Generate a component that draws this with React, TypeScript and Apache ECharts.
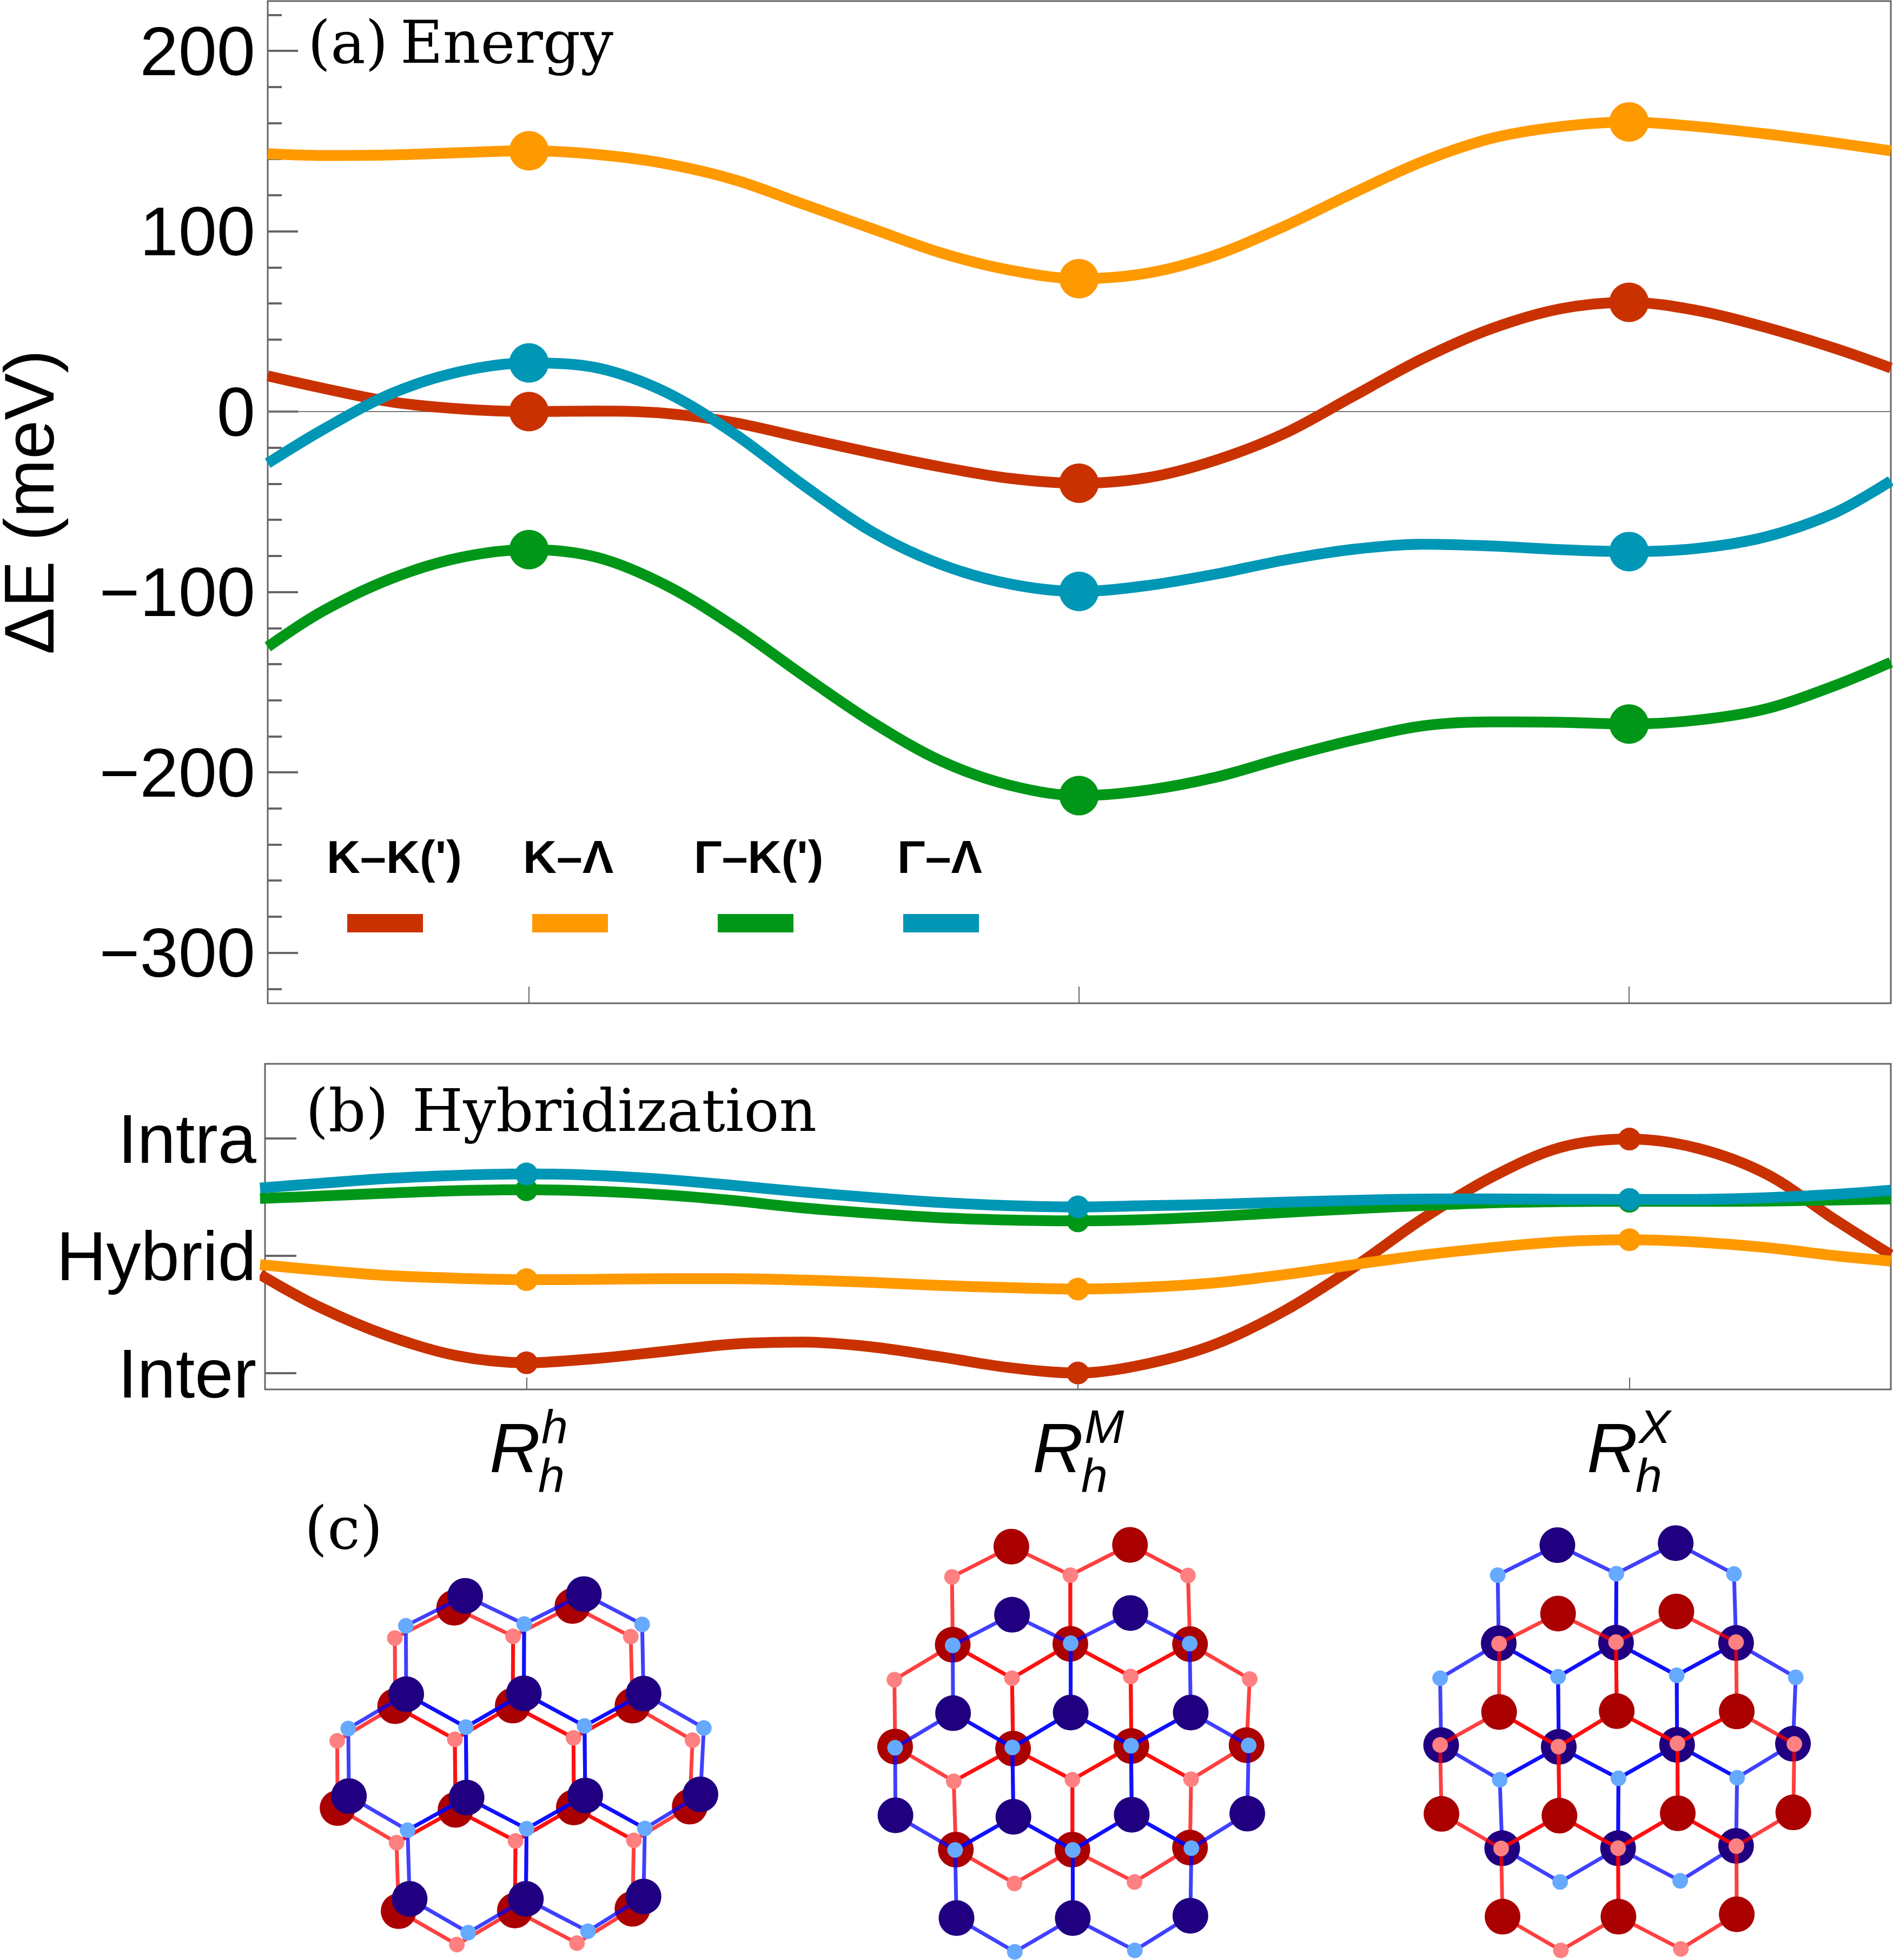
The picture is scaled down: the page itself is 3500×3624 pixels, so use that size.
import React, { useEffect, useRef } from 'react';
import * as echarts from 'echarts';

// Panel (a): energies in meV
const xEnergy = [-0.475, -0.375, -0.25, -0.125, 0, 0.125, 0.25, 0.375, 0.5, 0.625, 0.75, 0.875, 1, 1.125, 1.25, 1.375, 1.5, 1.625, 1.75, 1.875, 2, 2.125, 2.25, 2.375, 2.476];
const energyKK = [19.8, 13, 5.4, 1.5, 0, 0.3, -1, -6.2, -14.7, -23, -30.7, -37, -39.7, -36.6, -26.8, -11.9, 8.8, 29.4, 46, 57, 60.6, 56, 46.6, 35, 24.2];
const energyKL = [143, 142, 142.3, 143.6, 144.6, 142.5, 137.4, 128.4, 114.9, 101.3, 87.9, 78.4, 73.7, 76.8, 87, 103, 121.4, 138.7, 151.5, 158, 160.6, 158, 153.9, 149, 144.6];
const energyGK = [-130.4, -110.6, -92.5, -80.9, -76.5, -80.9, -96.4, -119.6, -146.6, -172.4, -193.8, -207.2, -212.9, -209.8, -202.6, -191.8, -182, -174.2, -172, -172.2, -173.2, -171, -164.7, -151.8, -139];
const energyGL = [-28.6, -10, 10, 22.2, 27, 24.2, 10.6, -12.6, -41, -66.8, -84.8, -95.6, -99.7, -96.4, -90, -82.2, -76.3, -73.5, -74.5, -76.5, -77.6, -75.8, -69.3, -56, -38.4];

// Panel (b): hybridization, 0 = Inter, 1 = Hybrid, 2 = Intra
const xHybrid = [-0.483, -0.375, -0.25, -0.125, 0, 0.125, 0.25, 0.375, 0.5, 0.625, 0.75, 0.875, 1, 1.125, 1.25, 1.375, 1.5, 1.625, 1.75, 1.875, 2, 2.125, 2.25, 2.375, 2.474];
const hybridKK = [0.84, 0.563, 0.317, 0.148, 0.089, 0.125, 0.186, 0.248, 0.265, 0.225, 0.14, 0.048, 0.002, 0.08, 0.249, 0.533, 0.902, 1.316, 1.67, 1.923, 1.995, 1.915, 1.693, 1.301, 1.009];
const hybridKL = [0.925, 0.878, 0.832, 0.809, 0.797, 0.8, 0.806, 0.806, 0.794, 0.774, 0.748, 0.729, 0.717, 0.733, 0.771, 0.84, 0.925, 1.006, 1.07, 1.12, 1.137, 1.117, 1.07, 1.0, 0.955];
const hybridGK = [1.489, 1.509, 1.535, 1.555, 1.563, 1.551, 1.52, 1.471, 1.409, 1.363, 1.325, 1.306, 1.298, 1.309, 1.335, 1.37, 1.401, 1.429, 1.452, 1.462, 1.465, 1.464, 1.467, 1.476, 1.485];
const hybridGL = [1.578, 1.617, 1.66, 1.686, 1.698, 1.686, 1.651, 1.6, 1.545, 1.497, 1.455, 1.428, 1.417, 1.427, 1.439, 1.458, 1.473, 1.484, 1.485, 1.482, 1.481, 1.482, 1.496, 1.524, 1.559];

const stackingTicks = [0, 1, 2];
const stackingIndex = [4, 12, 20]; // where the ticks sit in xEnergy / xHybrid
const energyMajor = [-300, -200, -100, 0, 100, 200];
const energyMinor = [-320, -280, -260, -240, -220, -180, -160, -140, -120, -80, -60, -40, -20, 20, 40, 60, 80, 120, 140, 160, 180, 220];
const hybridTicks = [0, 1, 2];
const hybridLabels = ['Inter', 'Hybrid', 'Intra'];

const seriesNames = ["K–K(')", 'K–Λ', "Γ–K(')", 'Γ–Λ'];
const seriesColors = ['#C93200', '#FF9900', '#009719', '#0096B5'];
const legendTextX = [604, 967, 1283, 1659];
const legendBarX = [642, 984, 1327, 1670];

// Panel (c): sites of the three stackings, read in a 1568-wide box per drawing
const rhBlueBig = [[643, 317], [987, 311], [472, 655], [813, 652], [1160, 653], [306, 1005], [647, 1010], [991, 1003], [1325, 999], [482, 1358], [819, 1358], [1160, 1350]];
const rhBlueSmall = [[471, 420], [814, 414], [1156, 415], [304, 773], [645, 768], [989, 764], [1335, 771], [476, 1122], [821, 1117], [1164, 1116], [652, 1474], [999, 1469]];
const rhRedBig = [[611, 358], [954, 352], [440, 696], [781, 694], [1128, 694], [273, 1046], [615, 1052], [958, 1044], [1294, 1041], [450, 1400], [787, 1398], [1128, 1392]];
const rhRedSmall = [[439, 462], [782, 456], [1123, 457], [272, 815], [613, 810], [957, 805], [1302, 813], [444, 1165], [789, 1159], [1132, 1157], [619, 1515], [967, 1510]];

const rmRedBig = [[580, 148], [924, 142], [410, 485], [751, 482], [1098, 483], [243, 835], [585, 842], [928, 833], [1262, 830], [419, 1189], [757, 1189], [1098, 1182]];
const rmRedSmall = [[408, 252], [751, 246], [1092, 247], [241, 605], [582, 600], [926, 594], [1271, 603], [413, 954], [757, 949], [1101, 947], [589, 1305], [937, 1300]];
const rmBlueBig = [[582, 382], [925, 376], [411, 720], [752, 718], [1100, 718], [244, 1071], [586, 1076], [929, 1069], [1264, 1065], [421, 1424], [758, 1424], [1099, 1416]];
const rmBlueSmall = [[410, 487], [752, 480], [1097, 481], [243, 839], [583, 838], [927, 832], [1268, 831], [417, 1190], [758, 1190], [1102, 1184], [590, 1540], [938, 1535]];

const rxBlueBig = [[595, 143], [938, 136], [425, 480], [765, 478], [1113, 479], [258, 830], [599, 836], [942, 829], [1278, 825], [435, 1184], [771, 1184], [1113, 1176]];
const rxBlueSmall = [[422, 246], [766, 241], [1107, 242], [255, 600], [597, 595], [941, 590], [1286, 597], [428, 949], [772, 944], [1116, 942], [603, 1300], [951, 1296]];
const rxRedBig = [[597, 378], [940, 371], [426, 716], [767, 713], [1115, 714], [259, 1066], [601, 1072], [944, 1064], [1279, 1061], [436, 1419], [772, 1419], [1115, 1411]];
const rxRedSmall = [[426, 481], [765, 476], [1113, 476], [255, 829], [598, 835], [943, 824], [1282, 826], [432, 1185], [771, 1184], [1114, 1177], [605, 1535], [953, 1530]];

// each hexagon lists sites: 0-11 big atoms, 12-23 small atoms
const hexagons = [
  [0, 13, 3, 16, 2, 12],
  [1, 14, 4, 17, 3, 13],
  [2, 16, 6, 19, 5, 15],
  [3, 17, 7, 20, 6, 16],
  [4, 18, 8, 21, 7, 17],
  [6, 20, 10, 22, 9, 19],
  [7, 21, 11, 23, 10, 20],
];

const SANS = '"Liberation Sans", Arial, sans-serif';
const SERIF = '"DejaVu Serif", serif';
const FRAME = '#666666';

// y is the text baseline; ECharts centres svg text, so shift by the font's mid-height
const label = (text: string, x: number, baseline: number, fontSize: number, fontFamily: string, extra: any = {}) => ({
  type: 'text',
  x,
  y: baseline - 0.346 * fontSize,
  silent: true,
  style: { text, fontSize, fontFamily, fill: '#000', verticalAlign: 'middle', textAlign: 'left', ...extra },
});

const stackingLabel = (tick: number, offset: number, sup: string) => {
  const x = tick + offset;
  return [
    label('R', x, 2722, 130, SANS, { fontStyle: 'italic' }),
    label(sup, x + 96, 2668, 88, SANS, { fontStyle: 'italic' }),
    label('h', x + 90, 2758, 88, SANS, { fontStyle: 'italic' }),
  ];
};

// bonds first, then big atoms, then small atoms of one layer
const layerSeries = (axis: number, big: number[][], small: number[][], bond: string, bigColor: string, smallColor: string) => {
  const sites = [...big, ...small];
  const common = { xAxisIndex: axis, yAxisIndex: axis + 1, silent: true, clip: false };
  return [
    ...hexagons.map(hex => ({
      ...common,
      type: 'line',
      showSymbol: false,
      data: [...hex, hex[0]].map(i => sites[i]),
      lineStyle: { color: bond, width: 7, opacity: 0.75 },
    })),
    { ...common, type: 'scatter', data: big, symbolSize: 66, itemStyle: { color: bigColor, opacity: 1 } },
    { ...common, type: 'scatter', data: small, symbolSize: 29, itemStyle: { color: smallColor, opacity: 1 } },
  ];
};

const redLayer = (axis: number, big: number[][], small: number[][]) => layerSeries(axis, big, small, '#FF0000', '#AA0000', '#FF8080');
const blueLayer = (axis: number, big: number[][], small: number[][]) => layerSeries(axis, big, small, '#0000FF', '#200080', '#66AAFF');

const curveSeries = (xs: number[], ys: number[], color: string, xAxisIndex: number, yAxisIndex: number, width: number, dot: number, clip: boolean) => [
  {
    type: 'line',
    xAxisIndex,
    yAxisIndex,
    clip,
    smooth: 0.33,
    showSymbol: false,
    silent: true,
    data: xs.map((x, i) => [x, ys[i]]),
    lineStyle: { color, width, cap: 'butt' },
  },
  {
    type: 'scatter',
    xAxisIndex,
    yAxisIndex,
    clip: false,
    silent: true,
    symbolSize: dot,
    data: stackingIndex.map(i => [xs[i], ys[i]]),
    itemStyle: { color, opacity: 1 },
  },
];

const latticeAxes = (i: number) => ({
  x: { gridIndex: i, type: 'value', min: 0, max: 1568, show: false },
  y: { gridIndex: i, type: 'value', min: 0, max: 1568, inverse: true, show: false },
});

const App: React.FC = () => {
  const chartRef = useRef<HTMLDivElement>(null);

  useEffect(() => {
    if (!chartRef.current) return;
    const chart = echarts.init(chartRef.current, undefined, { renderer: 'svg' });

    const stackingAxis = (gridIndex: number, min: number, max: number, length: number, width: number) => ({
      gridIndex,
      type: 'value',
      min,
      max,
      position: 'bottom',
      splitLine: { show: false },
      axisLine: { show: false, onZero: false },
      axisLabel: { show: false },
      axisTick: { show: true, inside: true, length, lineStyle: { color: FRAME, width }, customValues: stackingTicks },
    });

    const lattices = [2, 3, 4].map(latticeAxes);

    const series = [
      {
        type: 'line',
        xAxisIndex: 0,
        yAxisIndex: 0,
        showSymbol: false,
        silent: true,
        data: [[-0.475, 0], [2.476, 0]],
        lineStyle: { color: '#777777', width: 2 },
      },
      ...curveSeries(xEnergy, energyKK, seriesColors[0], 0, 0, 20, 73, true),
      ...curveSeries(xEnergy, energyKL, seriesColors[1], 0, 0, 20, 73, true),
      ...curveSeries(xEnergy, energyGK, seriesColors[2], 0, 0, 20, 73, true),
      ...curveSeries(xEnergy, energyGL, seriesColors[3], 0, 0, 20, 73, true),
      ...curveSeries(xHybrid, hybridKK, seriesColors[0], 1, 2, 20, 42, false),
      ...curveSeries(xHybrid, hybridKL, seriesColors[1], 1, 2, 20, 42, false),
      ...curveSeries(xHybrid, hybridGK, seriesColors[2], 1, 2, 20, 42, false),
      ...curveSeries(xHybrid, hybridGL, seriesColors[3], 1, 2, 20, 42, false),
      ...redLayer(2, rhRedBig, rhRedSmall),
      ...blueLayer(2, rhBlueBig, rhBlueSmall),
      ...redLayer(3, rmRedBig, rmRedSmall),
      ...blueLayer(3, rmBlueBig, rmBlueSmall),
      ...blueLayer(4, rxBlueBig, rxBlueSmall),
      ...redLayer(4, rxRedBig, rxRedSmall),
    ].map((s, i) => ({ ...s, z: i + 2 })); // keep the drawing order exactly as listed

    const option: any = {
      animation: false,
      backgroundColor: '#ffffff',
      grid: [
        { left: 495, top: 2, width: 3001, height: 1853, show: true, borderColor: FRAME, borderWidth: 3, backgroundColor: 'transparent', outerBoundsMode: 'none' },
        { left: 490, top: 1967, width: 3006, height: 602, show: true, borderColor: FRAME, borderWidth: 3, backgroundColor: 'transparent', outerBoundsMode: 'none' },
        { left: 450, top: 2780, width: 1000, height: 844, outerBoundsMode: 'none' },
        { left: 1500, top: 2780, width: 1000, height: 844, outerBoundsMode: 'none' },
        { left: 2500, top: 2780, width: 1000, height: 844, outerBoundsMode: 'none' },
      ],
      xAxis: [
        stackingAxis(0, -0.475, 2.476, 31, 2),
        stackingAxis(1, -0.474, 2.474, 22, 2),
        lattices[0].x,
        lattices[1].x,
        lattices[2].x,
      ],
      yAxis: [
        {
          gridIndex: 0,
          type: 'value',
          min: -328,
          max: 227.6,
          position: 'left',
          name: 'ΔE (meV)',
          nameLocation: 'middle',
          nameGap: 376,
          nameTextStyle: { fontFamily: SANS, fontSize: 130, color: '#000' },
          splitLine: { show: false },
          axisLine: { show: false, onZero: false },
          axisTick: { show: true, inside: true, length: 56, lineStyle: { color: FRAME, width: 4 }, customValues: energyMajor },
          axisLabel: {
            customValues: energyMajor,
            margin: 23,
            fontFamily: SANS,
            fontSize: 128,
            color: '#000',
            formatter: (v: number) => String(v).replace('-', '−'),
          },
        },
        {
          gridIndex: 0,
          type: 'value',
          min: -328,
          max: 227.6,
          position: 'left',
          offset: 0,
          splitLine: { show: false },
          axisLine: { show: false, onZero: false },
          axisLabel: { show: false },
          axisTick: { show: true, inside: true, length: 26, lineStyle: { color: FRAME, width: 4 }, customValues: energyMinor },
        },
        {
          gridIndex: 1,
          type: 'value',
          min: -0.138,
          max: 2.636,
          position: 'left',
          splitLine: { show: false },
          axisLine: { show: false, onZero: false },
          axisTick: { show: true, inside: true, length: 58, lineStyle: { color: FRAME, width: 4 }, customValues: hybridTicks },
          axisLabel: {
            customValues: hybridTicks,
            margin: 16,
            fontFamily: SANS,
            fontSize: 128,
            color: '#000',
            formatter: (v: number) => hybridLabels[v],
          },
        },
        lattices[0].y,
        lattices[1].y,
        lattices[2].y,
      ],
      series,
      graphic: [
        label('(a)', 569, 116, 108, SERIF),
        label('Energy', 740, 116, 108, SERIF),
        label('(b)', 565, 2091, 108, SERIF),
        label('Hybridization', 762, 2091, 108, SERIF),
        label('(c)', 563, 2863, 108, SERIF),
        ...seriesNames.map((name, i) => label(name, legendTextX[i], 1614, 86, SANS, { fontWeight: 'bold' })),
        ...seriesColors.map((color, i) => ({
          type: 'rect',
          silent: true,
          shape: { x: legendBarX[i], y: 1690, width: 140, height: 34 },
          style: { fill: color },
        })),
        ...stackingLabel(973, -68, 'h'),
        ...stackingLabel(1995, -86, 'M'),
        ...stackingLabel(3012, -78, 'X'),
      ],
    };

    chart.setOption(option);
    return () => chart.dispose();
  }, []);

  return <div ref={chartRef} style={{ position: 'absolute', left: 0, top: 0, width: 3500, height: 3624 }} />;
};

export default App;
